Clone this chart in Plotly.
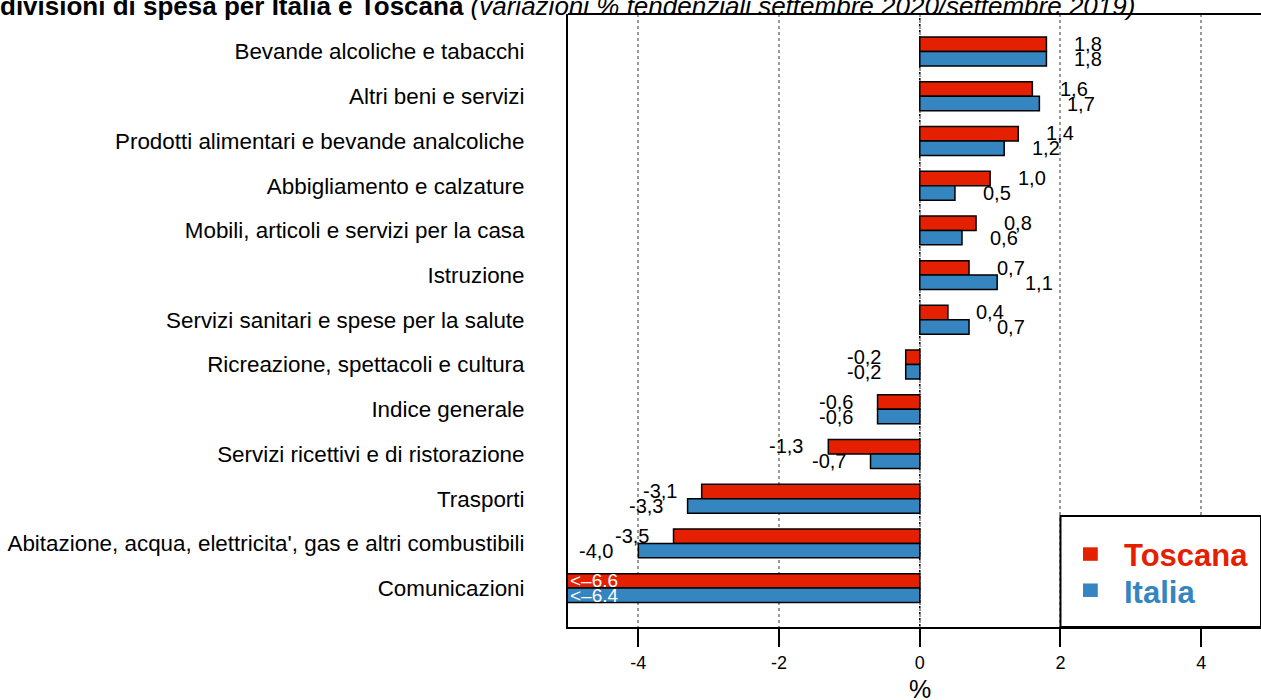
import plotly.graph_objects as go

# categories listed top to bottom
categorie = [
    "Bevande alcoliche e tabacchi",
    "Altri beni e servizi",
    "Prodotti alimentari e bevande analcoliche",
    "Abbigliamento e calzature",
    "Mobili, articoli e servizi per la casa",
    "Istruzione",
    "Servizi sanitari e spese per la salute",
    "Ricreazione, spettacoli e cultura",
    "Indice generale",
    "Servizi ricettivi e di ristorazione",
    "Trasporti",
    "Abitazione, acqua, elettricita', gas e altri combustibili",
    "Comunicazioni",
]
toscana = [1.8, 1.6, 1.4, 1.0, 0.8, 0.7, 0.4, -0.2, -0.6, -1.3, -3.1, -3.5, -6.6]
italia = [1.8, 1.7, 1.2, 0.5, 0.6, 1.1, 0.7, -0.2, -0.6, -0.7, -3.3, -4.0, -6.4]

x_tick_vals = [-4, -2, 0, 2, 4]
x_tick_text = ["-4", "-2", "0", "2", "4"]

ROSSO = "#E42000"
BLU = "#3485C0"
FONT = "Arial, Liberation Sans, sans-serif"
XMIN, XMAX = -5, 4.85

fig = go.Figure()
fig.add_trace(go.Bar(y=categorie, x=toscana, orientation="h", name="Toscana",
                     marker=dict(color=ROSSO, line=dict(color="black", width=1.5))))
fig.add_trace(go.Bar(y=categorie, x=italia, orientation="h", name="Italia",
                     marker=dict(color=BLU, line=dict(color="black", width=1.5))))


def fmt(v):
    return f"{v:.1f}".replace(".", ",")


annotations = []
for serie, shift in [(toscana, 7.5), (italia, -7.5)]:
    for cat, v in zip(categorie, serie):
        if v < XMIN:
            # out of range: note inside the bar at the left edge
            annotations.append(dict(x=XMIN, y=cat, xref="x", yref="y", text="<\u2013" + f"{-v:.1f}",
                                    showarrow=False, xanchor="left", yshift=shift,
                                    font=dict(family=FONT, size=19, color="white")))
        else:
            annotations.append(dict(x=v, y=cat, xref="x", yref="y", text=fmt(v),
                                    showarrow=False, xanchor="center",
                                    xshift=42 if v >= 0 else -42, yshift=shift,
                                    font=dict(family=FONT, size=20, color="black")))

# axis title
annotations.append(dict(x=0, y=0, xref="x", yref="paper", text="%", showarrow=False,
                        yanchor="top", yshift=-46, font=dict(family=FONT, size=25, color="black")))

# legend text
annotations.append(dict(x=2.88, y=0.116, xref="x", yref="paper", text="<b>Toscana</b>",
                        showarrow=False, xanchor="left", yanchor="middle",
                        font=dict(family=FONT, size=31, color=ROSSO)))
annotations.append(dict(x=2.88, y=0.056, xref="x", yref="paper", text="<b>Italia</b>",
                        showarrow=False, xanchor="left", yanchor="middle",
                        font=dict(family=FONT, size=31, color=BLU)))

shapes = [
    # zero line
    dict(type="line", xref="x", yref="paper", x0=0, x1=0, y0=0, y1=1,
         line=dict(color="black", width=1.5, dash="dot"), layer="below"),
    # top frame
    dict(type="line", xref="paper", yref="paper", x0=0, x1=1, y0=1, y1=1,
         line=dict(color="black", width=2)),
    # legend box
    dict(type="rect", xref="x", yref="paper", x0=2, x1=XMAX, y0=0, y1=0.181,
         line=dict(color="black", width=2), fillcolor="white", layer="above"),
    dict(type="rect", xref="x", yref="paper", x0=2.32, x1=2.53, y0=0.108, y1=0.130,
         line=dict(width=0), fillcolor=ROSSO, layer="above"),
    dict(type="rect", xref="x", yref="paper", x0=2.32, x1=2.53, y0=0.049, y1=0.071,
         line=dict(width=0), fillcolor=BLU, layer="above"),
]

fig.update_layout(
    width=1261, height=700,
    margin=dict(l=568, r=0, t=14, b=73),
    barmode="group", bargap=0.353, bargroupgap=0,
    plot_bgcolor="white", paper_bgcolor="white",
    showlegend=False,
    font=dict(family=FONT, color="black"),
    title=dict(
        text="<b>divisioni di spesa per Italia e Toscana</b> <i>(variazioni % tendenziali settembre 2020/settembre 2019)</i>",
        x=0, xref="container", xanchor="left", y=0.992, yref="container", yanchor="middle",
        font=dict(family=FONT, size=26, color="black")),
    annotations=annotations,
    shapes=shapes,
)
fig.update_xaxes(range=[XMIN, XMAX], tickvals=x_tick_vals, ticktext=x_tick_text,
                 showgrid=True, gridcolor="#999999", griddash="dot", gridwidth=1.5,
                 zeroline=False, showline=True, linecolor="black", linewidth=2,
                 ticks="outside", ticklen=18, tickwidth=2, tickcolor="black",
                 tickfont=dict(family=FONT, size=18, color="black"))
fig.update_yaxes(categoryorder="array", categoryarray=categorie,
                 range=[12.87, -0.84], showgrid=False, zeroline=False,
                 showline=True, linecolor="black", linewidth=2, ticks="",
                 ticklabelstandoff=37,
                 tickfont=dict(family=FONT, size=22.4, color="black"))

# drop the default page margin so the figure sits at the window's top-left corner
fig.write_html("out.html", config={"displayModeBar": False},
               post_script="document.body.style.margin='0';document.body.style.overflow='hidden';")
